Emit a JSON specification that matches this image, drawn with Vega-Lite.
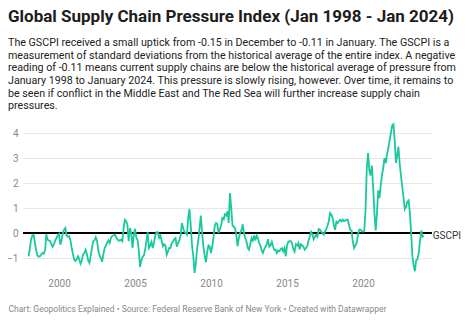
{
  "$schema": "https://vega.github.io/schema/vega-lite/v6.json",
  "width": 409,
  "height": 150,
  "autosize": {"type": "none"},
  "padding": {"left": 23, "top": 123, "right": 42, "bottom": 48},
  "background": "white",
  "config": {"font": "Roboto", "view": {"stroke": null}},
  "title": {
    "text": "Global Supply Chain Pressure Index (Jan 1998 - Jan 2024)",
    "subtitle": [
      "The GSCPI received a small uptick from -0.15 in December to -0.11 in January. The GSCPI is a",
      "measurement of standard deviations from the historical average of the entire index. A negative",
      "reading of -0.11 means current supply chains are below the historical average of pressure from",
      "January 1998 to January 2024. This pressure is slowly rising, however. Over time, it remains to",
      "be seen if conflict in the Middle East and The Red Sea will further increase supply chain",
      "pressures."
    ],
    "anchor": "start",
    "frame": "group",
    "dx": -15,
    "font": "Roboto",
    "fontSize": 17,
    "fontWeight": "bold",
    "color": "#1d1d1d",
    "subtitleFont": "Roboto",
    "subtitleFontSize": 10.7,
    "subtitleColor": "#222",
    "subtitleLineHeight": 12.7,
    "subtitlePadding": 12,
    "offset": 8.5
  },
  "data": {"values": [
{"d":"1998-01","v":-0.93},{"d":"1998-02","v":-0.6},{"d":"1998-03","v":-0.25},{"d":"1998-04","v":-0.1},{"d":"1998-05","v":-0.08},{"d":"1998-06","v":-0.4},{"d":"1998-07","v":-0.7},{"d":"1998-08","v":-0.9},{"d":"1998-09","v":-0.95},{"d":"1998-10","v":-0.93},{"d":"1998-11","v":-0.85},{"d":"1998-12","v":-0.8},
{"d":"1999-01","v":-0.83},{"d":"1999-02","v":-0.67},{"d":"1999-03","v":-0.05},{"d":"1999-04","v":-0.27},{"d":"1999-05","v":-0.3},{"d":"1999-06","v":-0.33},{"d":"1999-07","v":-0.45},{"d":"1999-08","v":-0.55},{"d":"1999-09","v":-0.45},{"d":"1999-10","v":-0.3},{"d":"1999-11","v":-0.2},{"d":"1999-12","v":-0.1},
{"d":"2000-01","v":-0.04},{"d":"2000-02","v":-0.47},{"d":"2000-03","v":-0.3},{"d":"2000-04","v":0.0},{"d":"2000-05","v":0.13},{"d":"2000-06","v":0.2},{"d":"2000-07","v":-0.1},{"d":"2000-08","v":-0.15},{"d":"2000-09","v":-0.13},{"d":"2000-10","v":-0.3},{"d":"2000-11","v":-0.6},{"d":"2000-12","v":-0.85},
{"d":"2001-01","v":-1.07},{"d":"2001-02","v":-1.12},{"d":"2001-03","v":-1.05},{"d":"2001-04","v":-0.93},{"d":"2001-05","v":-1.05},{"d":"2001-06","v":-1.23},{"d":"2001-07","v":-1.1},{"d":"2001-08","v":-0.85},{"d":"2001-09","v":-0.8},{"d":"2001-10","v":-0.67},{"d":"2001-11","v":-0.85},{"d":"2001-12","v":-1.1},
{"d":"2002-01","v":-1.2},{"d":"2002-02","v":-0.9},{"d":"2002-03","v":-0.6},{"d":"2002-04","v":-0.33},{"d":"2002-05","v":-0.3},{"d":"2002-06","v":-0.17},{"d":"2002-07","v":-0.3},{"d":"2002-08","v":-0.7},{"d":"2002-09","v":-0.9},{"d":"2002-10","v":-1.0},{"d":"2002-11","v":-1.15},{"d":"2002-12","v":-0.85},
{"d":"2003-01","v":-0.6},{"d":"2003-02","v":-0.5},{"d":"2003-03","v":-0.4},{"d":"2003-04","v":-0.3},{"d":"2003-05","v":-0.4},{"d":"2003-06","v":-0.2},{"d":"2003-07","v":-0.12},{"d":"2003-08","v":-0.1},{"d":"2003-09","v":-0.07},{"d":"2003-10","v":-0.15},{"d":"2003-11","v":-0.25},{"d":"2003-12","v":-0.3},
{"d":"2004-01","v":-0.3},{"d":"2004-02","v":-0.27},{"d":"2004-03","v":-0.33},{"d":"2004-04","v":0.2},{"d":"2004-05","v":0.53},{"d":"2004-06","v":0.47},{"d":"2004-07","v":0.33},{"d":"2004-08","v":-0.33},{"d":"2004-09","v":0.2},{"d":"2004-10","v":0.0},{"d":"2004-11","v":-0.6},{"d":"2004-12","v":-0.1},
{"d":"2005-01","v":0.17},{"d":"2005-02","v":-0.2},{"d":"2005-03","v":-0.27},{"d":"2005-04","v":-0.7},{"d":"2005-05","v":-1.36},{"d":"2005-06","v":-1.1},{"d":"2005-07","v":-0.95},{"d":"2005-08","v":-0.9},{"d":"2005-09","v":-0.67},{"d":"2005-10","v":-0.3},{"d":"2005-11","v":0.03},{"d":"2005-12","v":-0.6},
{"d":"2006-01","v":-0.5},{"d":"2006-02","v":-0.35},{"d":"2006-03","v":-0.6},{"d":"2006-04","v":-0.4},{"d":"2006-05","v":-0.1},{"d":"2006-06","v":0.03},{"d":"2006-07","v":0.03},{"d":"2006-08","v":-0.2},{"d":"2006-09","v":-0.1},{"d":"2006-10","v":-0.3},{"d":"2006-11","v":-0.53},{"d":"2006-12","v":-0.45},
{"d":"2007-01","v":-0.5},{"d":"2007-02","v":-0.87},{"d":"2007-03","v":-0.75},{"d":"2007-04","v":-0.6},{"d":"2007-05","v":-0.6},{"d":"2007-06","v":-0.4},{"d":"2007-07","v":-0.35},{"d":"2007-08","v":-0.25},{"d":"2007-09","v":-0.2},{"d":"2007-10","v":-0.55},{"d":"2007-11","v":-0.4},{"d":"2007-12","v":-0.3},
{"d":"2008-01","v":-0.1},{"d":"2008-02","v":0.4},{"d":"2008-03","v":0.2},{"d":"2008-04","v":0.05},{"d":"2008-05","v":0.0},{"d":"2008-06","v":-0.07},{"d":"2008-07","v":0.6},{"d":"2008-08","v":0.96},{"d":"2008-09","v":0.3},{"d":"2008-10","v":-0.5},{"d":"2008-11","v":-0.95},{"d":"2008-12","v":-1.6},
{"d":"2009-01","v":-1.2},{"d":"2009-02","v":-0.6},{"d":"2009-03","v":-0.3},{"d":"2009-04","v":0.2},{"d":"2009-05","v":0.7},{"d":"2009-06","v":0.0},{"d":"2009-07","v":-0.55},{"d":"2009-08","v":-0.9},{"d":"2009-09","v":-1.17},{"d":"2009-10","v":-0.75},{"d":"2009-11","v":-0.5},{"d":"2009-12","v":-0.55},
{"d":"2010-01","v":-0.8},{"d":"2010-02","v":-0.5},{"d":"2010-03","v":-0.2},{"d":"2010-04","v":0.3},{"d":"2010-05","v":0.4},{"d":"2010-06","v":0.35},{"d":"2010-07","v":0.0},{"d":"2010-08","v":0.15},{"d":"2010-09","v":0.3},{"d":"2010-10","v":0.6},{"d":"2010-11","v":0.55},{"d":"2010-12","v":0.75},
{"d":"2011-01","v":0.7},{"d":"2011-02","v":0.87},{"d":"2011-03","v":0.4},{"d":"2011-04","v":1.6},{"d":"2011-05","v":1.0},{"d":"2011-06","v":0.3},{"d":"2011-07","v":0.25},{"d":"2011-08","v":0.2},{"d":"2011-09","v":-0.1},{"d":"2011-10","v":-0.53},{"d":"2011-11","v":-0.2},{"d":"2011-12","v":0.0},
{"d":"2012-01","v":0.1},{"d":"2012-02","v":0.35},{"d":"2012-03","v":0.0},{"d":"2012-04","v":-0.2},{"d":"2012-05","v":-0.33},{"d":"2012-06","v":-0.6},{"d":"2012-07","v":-0.67},{"d":"2012-08","v":-0.45},{"d":"2012-09","v":-0.2},{"d":"2012-10","v":-0.3},{"d":"2012-11","v":-0.1},{"d":"2012-12","v":-0.3},
{"d":"2013-01","v":-0.1},{"d":"2013-02","v":-0.2},{"d":"2013-03","v":-0.4},{"d":"2013-04","v":-0.5},{"d":"2013-05","v":-0.7},{"d":"2013-06","v":-0.8},{"d":"2013-07","v":-0.65},{"d":"2013-08","v":-0.55},{"d":"2013-09","v":-0.45},{"d":"2013-10","v":-0.25},{"d":"2013-11","v":-0.55},{"d":"2013-12","v":-0.5},
{"d":"2014-01","v":-0.35},{"d":"2014-02","v":-0.55},{"d":"2014-03","v":-0.67},{"d":"2014-04","v":-0.67},{"d":"2014-05","v":-0.8},{"d":"2014-06","v":-0.7},{"d":"2014-07","v":-0.73},{"d":"2014-08","v":-0.65},{"d":"2014-09","v":-0.6},{"d":"2014-10","v":-0.73},{"d":"2014-11","v":-0.6},{"d":"2014-12","v":-0.93},
{"d":"2015-01","v":-0.5},{"d":"2015-02","v":-0.35},{"d":"2015-03","v":-0.33},{"d":"2015-04","v":-0.33},{"d":"2015-05","v":-0.4},{"d":"2015-06","v":-0.65},{"d":"2015-07","v":-0.75},{"d":"2015-08","v":-0.45},{"d":"2015-09","v":-0.5},{"d":"2015-10","v":-0.4},{"d":"2015-11","v":-0.65},{"d":"2015-12","v":-0.45},
{"d":"2016-01","v":-0.5},{"d":"2016-02","v":-0.55},{"d":"2016-03","v":-0.67},{"d":"2016-04","v":-0.6},{"d":"2016-05","v":-0.53},{"d":"2016-06","v":-0.3},{"d":"2016-07","v":-0.15},{"d":"2016-08","v":0.05},{"d":"2016-09","v":-0.05},{"d":"2016-10","v":-0.25},{"d":"2016-11","v":-0.15},{"d":"2016-12","v":-0.07},
{"d":"2017-01","v":-0.15},{"d":"2017-02","v":0.16},{"d":"2017-03","v":0.14},{"d":"2017-04","v":0.05},{"d":"2017-05","v":0.0},{"d":"2017-06","v":-0.07},{"d":"2017-07","v":0.05},{"d":"2017-08","v":0.15},{"d":"2017-09","v":0.3},{"d":"2017-10","v":0.47},{"d":"2017-11","v":0.8},{"d":"2017-12","v":0.73},
{"d":"2018-01","v":0.6},{"d":"2018-02","v":0.3},{"d":"2018-03","v":0.13},{"d":"2018-04","v":0.45},{"d":"2018-05","v":0.4},{"d":"2018-06","v":0.47},{"d":"2018-07","v":0.53},{"d":"2018-08","v":0.47},{"d":"2018-09","v":0.53},{"d":"2018-10","v":0.47},{"d":"2018-11","v":0.5},{"d":"2018-12","v":0.53},
{"d":"2019-01","v":0.53},{"d":"2019-02","v":0.3},{"d":"2019-03","v":0.13},{"d":"2019-04","v":0.1},{"d":"2019-05","v":-0.35},{"d":"2019-06","v":-0.6},{"d":"2019-07","v":-0.5},{"d":"2019-08","v":-0.4},{"d":"2019-09","v":-0.07},{"d":"2019-10","v":0.13},{"d":"2019-11","v":0.13},{"d":"2019-12","v":0.07},
{"d":"2020-01","v":0.05},{"d":"2020-02","v":0.1},{"d":"2020-03","v":0.9},{"d":"2020-04","v":2.6},{"d":"2020-05","v":3.2},{"d":"2020-06","v":2.5},{"d":"2020-07","v":2.3},{"d":"2020-08","v":2.7},{"d":"2020-09","v":1.8},{"d":"2020-10","v":0.8},{"d":"2020-11","v":0.1},{"d":"2020-12","v":0.8},
{"d":"2021-01","v":1.7},{"d":"2021-02","v":1.4},{"d":"2021-03","v":1.9},{"d":"2021-04","v":2.3},{"d":"2021-05","v":2.6},{"d":"2021-06","v":3.0},{"d":"2021-07","v":2.8},{"d":"2021-08","v":3.15},{"d":"2021-09","v":3.4},{"d":"2021-10","v":3.7},{"d":"2021-11","v":4.0},{"d":"2021-12","v":4.3},
{"d":"2022-01","v":4.35},{"d":"2022-02","v":3.7},{"d":"2022-03","v":2.8},{"d":"2022-04","v":3.1},{"d":"2022-05","v":3.45},{"d":"2022-06","v":2.75},{"d":"2022-07","v":2.3},{"d":"2022-08","v":1.85},{"d":"2022-09","v":1.4},{"d":"2022-10","v":0.95},{"d":"2022-11","v":1.05},{"d":"2022-12","v":1.25},
{"d":"2023-01","v":1.3},{"d":"2023-02","v":0.8},{"d":"2023-03","v":0.05},{"d":"2023-04","v":-0.9},{"d":"2023-05","v":-1.3},{"d":"2023-06","v":-1.53},{"d":"2023-07","v":-1.1},{"d":"2023-08","v":-1.05},{"d":"2023-09","v":-0.8},{"d":"2023-10","v":-0.35},{"d":"2023-11","v":0.1},{"d":"2023-12","v":-0.15},
{"d":"2024-01","v":-0.11}
  ]},
  "encoding": {
    "x": {
      "field": "d",
      "type": "temporal",
      "scale": {
        "type": "utc",
        "domain": [
          {"year": 1997, "month": 8, "date": 18, "utc": true},
          {"year": 2024, "month": 7, "date": 16, "utc": true}
        ]
      },
      "axis": {
        "title": "Chart: Geopolitics Explained • Source: Federal Reserve Bank of New York • Created with Datawrapper",
        "tickCount": {"interval": "year", "step": 5},
        "format": "%Y",
        "formatType": "utc",
        "grid": false,
        "domain": false,
        "ticks": false,
        "labelColor": "#888",
        "labelFontSize": 10,
        "labelPadding": 5,
        "labelFont": "Roboto",
        "titleFont": "Roboto",
        "titleAnchor": "start",
        "titleAlign": "left",
        "titleX": -15,
        "titleY": 35,
        "titleBaseline": "middle",
        "titleFontSize": 8.5,
        "titleFontWeight": "normal",
        "titleColor": "#888"
      }
    },
    "y": {
      "field": "v",
      "type": "quantitative",
      "scale": {"domain": [-1.6, 4.4], "nice": false, "zero": false},
      "axis": {
        "title": null,
        "values": [-1, 0, 1, 2, 3, 4],
        "domain": false,
        "ticks": false,
        "gridColor": "#e6e6e6",
        "labelColor": "#888",
        "labelFontSize": 10,
        "labelFont": "Roboto",
        "labelPadding": 5
      }
    }
  },
  "layer": [
    {
      "mark": {"type": "rule", "color": "#000", "strokeWidth": 1},
      "encoding": {"y": {"datum": 0}, "x": null}
    },
    {
      "mark": {"type": "line", "color": "#19c99d", "strokeWidth": 1.8}
    },
    {
      "transform": [{"filter": "time(datum.d) == utc(2024,0,1)"}],
      "mark": {"type": "text", "align": "left", "baseline": "middle", "dx": 9, "fontSize": 10, "color": "#333", "font": "Roboto"},
      "encoding": {"text": {"value": "GSCPI"}}
    }
  ]
}
